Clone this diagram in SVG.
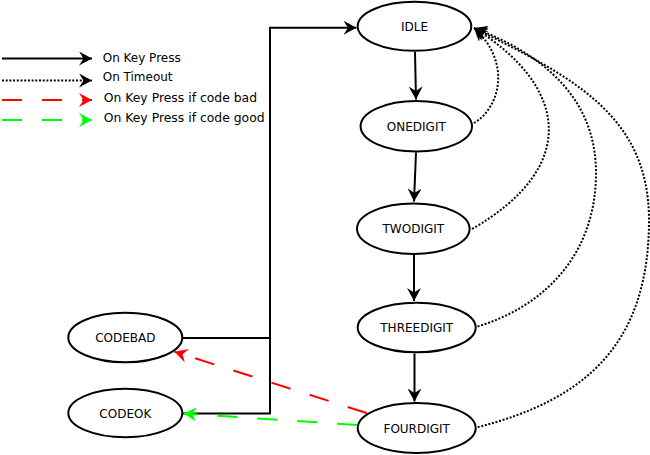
<svg xmlns="http://www.w3.org/2000/svg" width="650" height="455" viewBox="0 0 650 455">
<style>
  .node ellipse { fill: #ffffff; stroke: #000000; stroke-width: 2; }
  .node text, .legend text { font-family: "DejaVu Sans", "Liberation Sans", sans-serif; font-size: 12px; fill: #000000; }
  .node text { text-anchor: middle; }
  .legend text.big { font-size: 12.4px; }
  .solid { fill: none; stroke: #000000; stroke-width: 2; marker-end: url(#arrK); }
  .dotted { fill: none; stroke: #000000; stroke-width: 2; stroke-dasharray: 2 1.7; marker-end: url(#arrK); }
  .bad { fill: none; stroke: #ff0000; stroke-width: 2; stroke-dasharray: 20 20; marker-end: url(#arrR); }
  .good { fill: none; stroke: #00ff00; stroke-width: 2; stroke-dasharray: 20 20; marker-end: url(#arrG); }
</style>
<defs>
  <marker id="arrK" viewBox="0 0 13 14" refX="13" refY="7" markerWidth="13" markerHeight="14" markerUnits="userSpaceOnUse" orient="auto">
    <path d="M0,0 L13,7 L0,14 L4.5,7 z" fill="#000000"/>
  </marker>
  <marker id="arrR" viewBox="0 0 13 14" refX="13" refY="7" markerWidth="13" markerHeight="14" markerUnits="userSpaceOnUse" orient="auto">
    <path d="M0,0 L13,7 L0,14 L4.5,7 z" fill="#ff0000"/>
  </marker>
  <marker id="arrG" viewBox="0 0 13 14" refX="13" refY="7" markerWidth="13" markerHeight="14" markerUnits="userSpaceOnUse" orient="auto">
    <path d="M0,0 L13,7 L0,14 L4.5,7 z" fill="#00ff00"/>
  </marker>
</defs>
<rect x="0" y="0" width="650" height="455" fill="#ffffff"/>

<g id="legend" class="legend">
  <path class="solid" d="M2,58.5 L92,58.5"/>
  <path class="dotted" d="M2,80.5 L92,80.5"/>
  <path class="bad" d="M2,100 L92,100"/>
  <path class="good" d="M2,120 L92,120"/>
  <text x="102.7" y="61.7">On Key Press</text>
  <text x="102.7" y="81">On Timeout</text>
  <text class="big" x="103.7" y="101.7">On Key Press if code bad</text>
  <text class="big" x="103.7" y="122.2">On Key Press if code good</text>
</g>

<g id="connectors">
  <path class="solid" d="M183,338 L270,338 M183,413.5 L270,413.5 L270,27.7 L356.5,27.7"/>
  <path class="solid" d="M415,52 L416,99.5"/>
  <path class="solid" d="M416,152.5 L414,201.5"/>
  <path class="solid" d="M414,255 L414,301"/>
  <path class="solid" d="M414.5,353.5 L414.5,401.5"/>
  <path class="dotted" d="M474,123 C500,108 512,62 474,28"/>
  <path class="dotted" d="M472,229 C580,167 568,86 474,28"/>
  <path class="dotted" d="M474,327.5 C540,309 596,258 596,173 C596,98 543,54 474,28"/>
  <path class="dotted" d="M474,428 C590,400 649,340 649,220 C649,114 570,76 474,28"/>
  <path class="bad" d="M366.7,413 L174.5,351.7"/>
  <path class="good" d="M357,425 L183.5,413.5"/>
</g>

<g id="IDLE" class="node">
  <ellipse cx="414.5" cy="26.3" rx="56.8" ry="24.5"/>
  <text x="414.5" y="31">IDLE</text>
</g>
<g id="ONEDIGIT" class="node">
  <ellipse cx="416.3" cy="126.3" rx="55.7" ry="25.3"/>
  <text x="416.3" y="130.8">ONEDIGIT</text>
</g>
<g id="TWODIGIT" class="node">
  <ellipse cx="413.3" cy="228.7" rx="56.3" ry="25.3"/>
  <text x="413.3" y="233.2">TWODIGIT</text>
</g>
<g id="THREEDIGIT" class="node">
  <ellipse cx="416.7" cy="327.5" rx="59" ry="24.8"/>
  <text x="416.7" y="332">THREEDIGIT</text>
</g>
<g id="FOURDIGIT" class="node">
  <ellipse cx="416.7" cy="428" rx="59" ry="25"/>
  <text x="416.7" y="432.5">FOURDIGIT</text>
</g>
<g id="CODEBAD" class="node">
  <ellipse cx="125.3" cy="337.5" rx="57" ry="24.8"/>
  <text x="125.3" y="342">CODEBAD</text>
</g>
<g id="CODEOK" class="node">
  <ellipse cx="125.3" cy="413" rx="57" ry="24.3"/>
  <text x="125.3" y="417.5">CODEOK</text>
</g>
</svg>
